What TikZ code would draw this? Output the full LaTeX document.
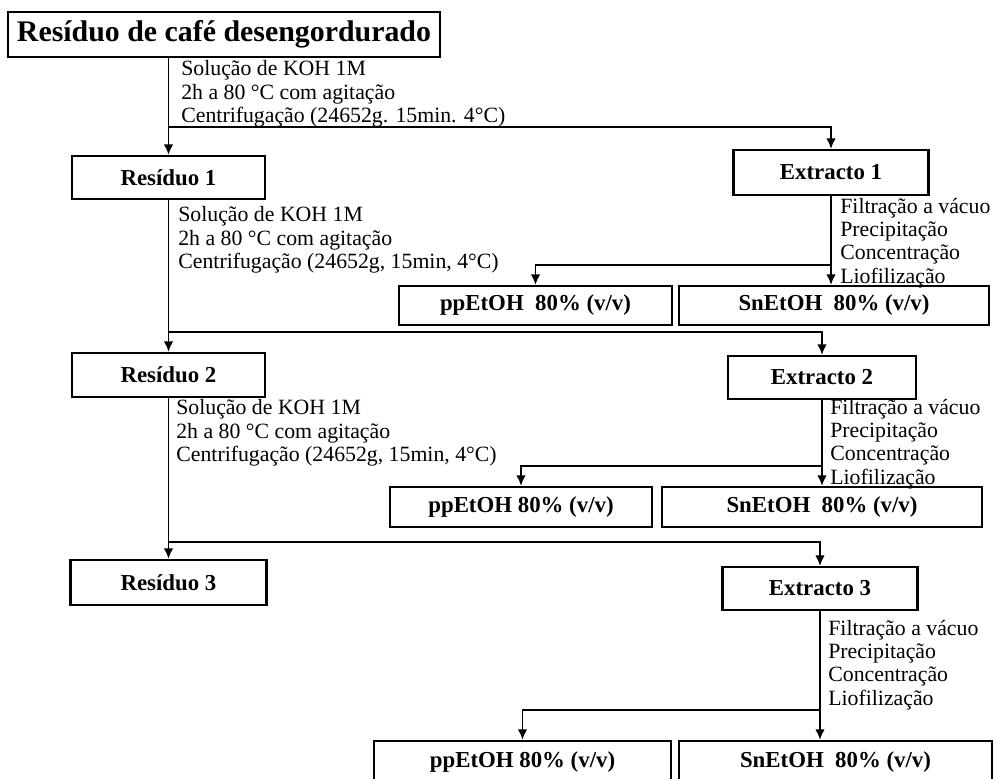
\documentclass[tikz,border=0pt]{standalone}
\usepackage{fontspec}
\setmainfont{Liberation Serif}
\usetikzlibrary{arrows.meta}

\tikzset{
  box/.style={draw,line width=1.3pt,inner sep=0pt,font=\bfseries\fontsize{13}{15}\selectfont},
  size/.style 2 args={minimum width=#1,minimum height=#2},
  note/.style={anchor=west,align=left,inner sep=0pt,font=\fontsize{12.4}{13.3}\selectfont},
  link/.style={line width=1.1pt},
  >={Latex[length=6pt,width=5.5pt]}
}

\begin{document}
\begin{tikzpicture}[x=0.02cm,y=-0.02cm]
\clip (0,0) rectangle (994,778);

% boxes, left column
\node[box,size={8.64cm}{0.9cm},font=\bfseries\fontsize{17}{19}\selectfont] (title) at (224,34.5) {Resíduo de café desengordurado};
\node[box,size={3.86cm}{0.86cm}] (res1) at (168.5,177.5) {Resíduo 1};
\node[box,size={3.86cm}{0.88cm}] (res2) at (168.5,375) {Resíduo 2};
\node[box,size={3.92cm}{0.9cm}] (res3) at (168.5,582.5) {Resíduo 3};

% boxes, right column
\node[box,size={3.9cm}{0.9cm}] (ext1) at (831,172.5) {Extracto 1};
\node[box,size={3.76cm}{0.86cm}] (ext2) at (822,377.5) {Extracto 2};
\node[box,size={3.9cm}{0.86cm}] (ext3) at (820,588.5) {Extracto 3};

% fractions
\node[box,size={5.46cm}{0.78cm}] (pp1) at (535.5,305.5) {ppEtOH~~80\% (v/v)};
\node[box,size={6.2cm}{0.78cm}] (sn1) at (834,305.5) {SnEtOH~~80\% (v/v)};
\node[box,size={5.24cm}{0.8cm}] (pp2) at (521,507) {ppEtOH 80\% (v/v)};
\node[box,size={6.4cm}{0.8cm}] (sn2) at (822,507) {SnEtOH~~80\% (v/v)};
\node[box,size={5.94cm}{0.82cm}] (pp3) at (522.5,761.5) {ppEtOH 80\% (v/v)};
\node[box,size={6.26cm}{0.82cm}] (sn3) at (835.5,761.5) {SnEtOH~~80\% (v/v)};

% step notes
\node[note] (n1) at (181,94) {Solução de KOH 1M\\2h a 80 °C com agitação\\Centrifugação (24652g. 15min. 4°C)};
\node[note] (n2) at (178,240) {Solução de KOH 1M\\2h a 80 °C com agitação\\Centrifugação (24652g, 15min, 4°C)};
\node[note] (n3) at (176,433) {Solução de KOH 1M\\2h a 80 °C com agitação\\Centrifugação (24652g, 15min, 4°C)};
\node[note] (f1) at (840,243) {Filtração a vácuo\\Precipitação\\Concentração\\Liofilização};
\node[note] (f2) at (830,444) {Filtração a vácuo\\Precipitação\\Concentração\\Liofilização};
\node[note] (f3) at (828,665) {Filtração a vácuo\\Precipitação\\Concentração\\Liofilização};

% branch points
\coordinate (c1) at (168.5,127);
\coordinate (c2) at (168.5,332);
\coordinate (c3) at (168.5,542);
\coordinate (b1) at (831,265);
\coordinate (b2) at (822,466);
\coordinate (b3) at (820,710);

% main trunk
\draw[link,->] (res1 |- title.south) -- (res1.north);
\draw[link,->] (res1.south) -- (res2.north);
\draw[link,->] (res2.south) -- (res3.north);
\draw[link,->] (c1) -| (ext1.north);
\draw[link,->] (c2) -| (ext2.north);
\draw[link,->] (c3) -| (ext3.north);

% extracts
\draw[link,->] (ext1.south) -- (ext1.south |- sn1.north);
\draw[link,->] (b1) -| (pp1.north);
\draw[link,->] (ext2.south) -- (ext2.south |- sn2.north);
\draw[link,->] (b2) -| (pp2.north);
\draw[link,->] (ext3.south) -- (ext3.south |- sn3.north);
\draw[link,->] (b3) -| (pp3.north);
\end{tikzpicture}
\end{document}
